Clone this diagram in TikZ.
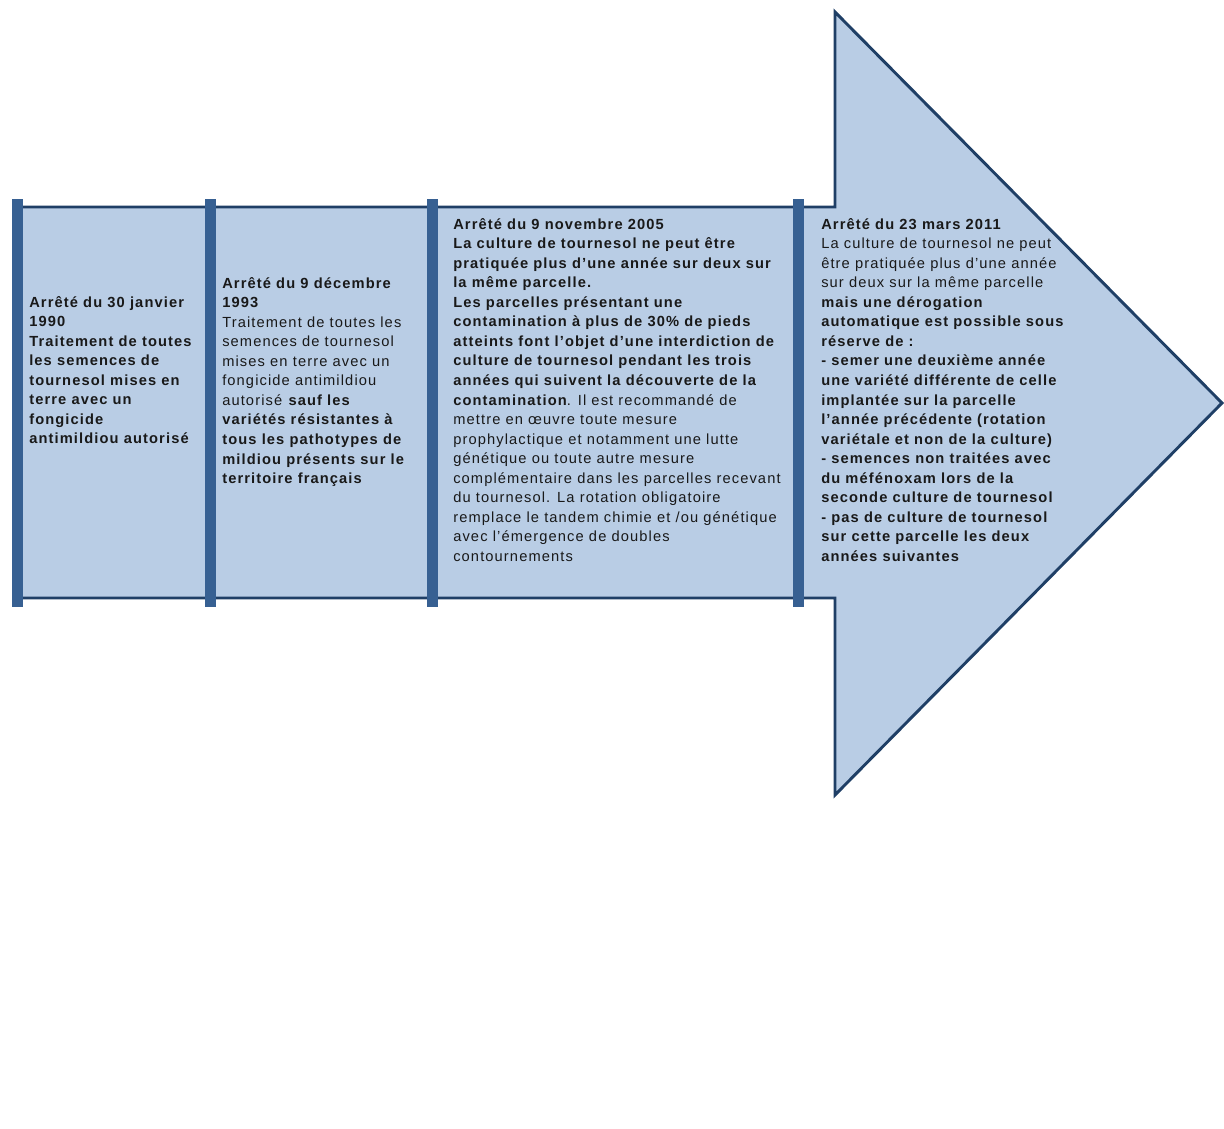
\documentclass[tikz,border=0pt]{standalone}
\usepackage{fontspec}
\setmainfont{Liberation Sans}[LetterSpace=7.6]
\usetikzlibrary{positioning}
\definecolor{fondfleche}{HTML}{B9CDE5}
\definecolor{bordfleche}{HTML}{1F3F66}
\definecolor{jaloncol}{HTML}{376092}
\newcommand\textsize{\fontsize{11}{14.65}\selectfont}
\tikzstyle{fleche} = [fill=fondfleche, draw=bordfleche, line width=2.2pt, line join=miter]
\tikzstyle{jalon} = [fill=jaloncol, draw=none]
\tikzstyle{arrete} = [anchor=north west, inner sep=0pt, align=left, font=\textsize, text=black!90]

\begin{document}
\begin{tikzpicture}[x=0.75pt, y=-0.75pt]
	    \useasboundingbox (0,0) rectangle (1224,1128);

	    \draw[fleche] (15,207) -- (835,207) -- (835,12) -- (1222,403) -- (835,795) -- (835,598) -- (15,598) -- cycle;

	    \foreach \xj in {17.5,210.5,432,798.5}
	        \fill[jalon] (\xj-5.5,199) rectangle (\xj+5.5,607);

	    \node[arrete] (a1990) at (29,296) {\bfseries Arrêté du 30 janvier\\\bfseries 1990\\\bfseries Traitement de toutes\\\bfseries les semences de\\\bfseries tournesol mises en\\\bfseries terre avec un\\\bfseries fongicide\\\bfseries antimildiou autorisé};

	    \node[arrete] (a1993) at (222,277) {\bfseries Arrêté du 9 décembre\\\bfseries 1993\\Traitement de toutes les\\semences de tournesol\\mises en terre avec un\\fongicide antimildiou\\autorisé \textbf{sauf les}\\\bfseries variétés résistantes à\\\bfseries tous les pathotypes de\\\bfseries mildiou présents sur le\\\bfseries territoire français};

	    \node[arrete] (a2005) at (453,218) {\bfseries Arrêté du 9 novembre 2005\\\bfseries La culture de tournesol ne peut être\\\bfseries pratiquée plus d’une année sur deux sur\\\bfseries la même parcelle.\\\bfseries Les parcelles présentant une\\\bfseries contamination à plus de 30\% de pieds\\\bfseries atteints font l’objet d’une interdiction de\\\bfseries culture de tournesol pendant les trois\\\bfseries années qui suivent la découverte de la\\\textbf{contamination}. Il est recommandé de\\mettre en œuvre toute mesure\\prophylactique et notamment une lutte\\génétique ou toute autre mesure\\complémentaire dans les parcelles recevant\\du tournesol. La rotation obligatoire\\remplace le tandem chimie et /ou génétique\\avec l'émergence de doubles\\contournements};

	    \node[arrete] (a2011) at (821,218) {\bfseries Arrêté du 23 mars 2011\\La culture de tournesol ne peut\\être pratiquée plus d'une année\\sur deux sur la même parcelle\\\bfseries mais une dérogation\\\bfseries automatique est possible sous\\\bfseries réserve de :\\\bfseries - semer une deuxième année\\\bfseries une variété différente de celle\\\bfseries implantée sur la parcelle\\\bfseries l’année précédente (rotation\\\bfseries variétale et non de la culture)\\\bfseries - semences non traitées avec\\\bfseries du méfénoxam lors de la\\\bfseries seconde culture de tournesol\\\bfseries - pas de culture de tournesol\\\bfseries sur cette parcelle les deux\\\bfseries années suivantes};
	\end{tikzpicture}
\end{document}
